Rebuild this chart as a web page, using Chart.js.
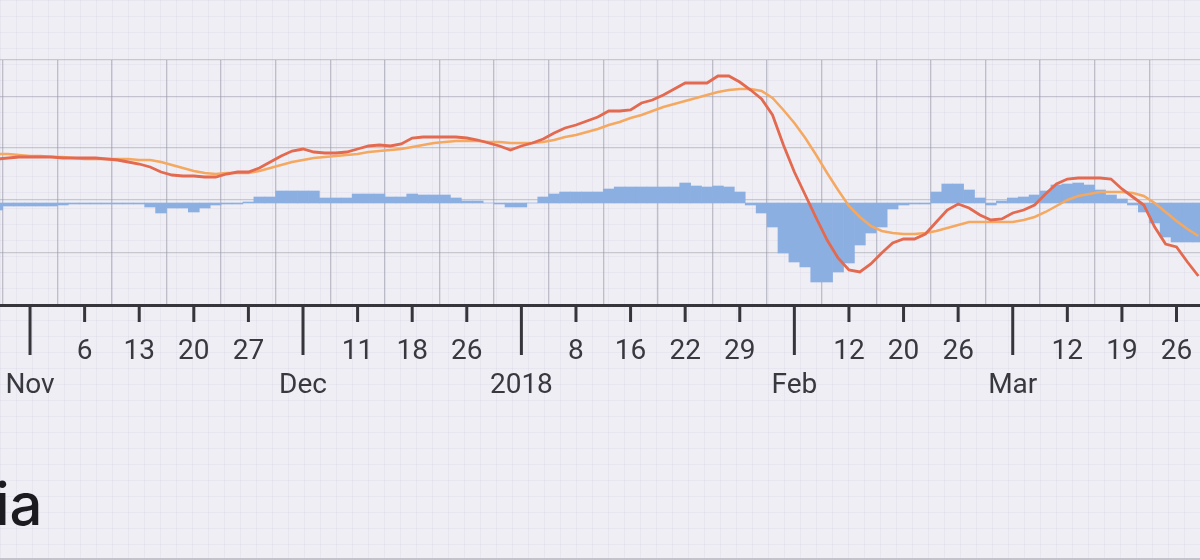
<!DOCTYPE html>
<html>
<head>
<meta charset="utf-8">
<script src="https://cdn.jsdelivr.net/npm/chart.js@4.4.1/dist/chart.umd.min.js"></script>
<style>
  html, body {
    margin: 0;
    padding: 0;
  }
  body {
    width: 1200px;
    height: 560px;
    overflow: hidden;
    position: relative;
    background-color: #efeef5;
    background-image:
      linear-gradient(to right, rgba(110, 110, 150, 0.06) 1px, transparent 1px),
      linear-gradient(to bottom, rgba(110, 110, 150, 0.06) 1px, transparent 1px);
    background-size: 16px 16px;
  }
  #wrap {
    position: absolute;
    left: 0;
    top: 0;
    width: 1200px;
    height: 560px;
  }
  #brand {
    position: absolute;
    left: -5px;
    top: 475px;
    font: 500 58px/58px Inter, sans-serif;
    color: #1b1b20;
  }
  #edge {
    position: absolute;
    left: 0;
    bottom: 0;
    width: 1200px;
    height: 2px;
    background: #c4c3cb;
  }
</style>
</head>
<body>
<div id="wrap"><canvas id="macdChart"></canvas></div>
<div id="brand">ia</div>
<div id="edge"></div>

<script>
// Daily slots, 5 per week; the first value sits 3 slots before the "Nov" tick
const firstDay = -3;

// Week ticks along the bottom axis
const tickLabels = ["Nov", "6", "13", "20", "27", "Dec", "11", "18", "26", "2018",
    "8", "16", "22", "29", "Feb", "12", "20", "26", "Mar", "12", "19", "26"];
const majorTicks = ["Nov", "Dec", "2018", "Feb", "Mar"];

// MACD line (red)
const macdLine = [
    44, 45, 46, 46, 46, 46, 45, 45, 45, 45,
    44, 43, 41, 39, 36, 31, 28, 27, 27, 26,
    26, 29, 31, 31, 35, 41, 47, 52, 54, 51,
    50, 50, 51, 54, 57, 58, 57, 59, 65, 66,
    66, 66, 66, 65, 63, 60, 57, 53, 57, 60,
    64, 70, 75, 78, 82, 86, 92, 92, 93, 100,
    103, 108, 114, 120, 120, 120, 127, 127, 121, 113,
    104, 88, 58, 31, 8, -15, -37, -55, -67, -69,
    -61, -50, -40, -36, -36, -31, -19, -7, -1, -5,
    -12, -17, -16, -10, -7, -2, 9, 19, 24, 25,
    25, 25, 24, 14, 6, -2, -24, -41, -44, -59, -73
];

// Signal line (orange)
const signalLine = [
    49, 49, 48, 47, 47, 46, 46, 45, 44, 44,
    44, 44, 44, 43, 43, 41, 38, 35, 32, 30,
    29, 30, 30, 30, 32, 35, 38, 41, 43, 45,
    46, 47, 48, 49, 51, 52, 53, 54, 56, 58,
    60, 61, 62, 62, 62, 61, 61, 60, 60, 60,
    61, 63, 66, 68, 71, 74, 78, 81, 85, 88,
    92, 96, 99, 102, 105, 108, 111, 113, 114, 114,
    112, 105, 93, 80, 65, 48, 30, 13, -3, -14,
    -23, -28, -30, -31, -31, -30, -28, -25, -22, -19,
    -19, -19, -19, -19, -17, -14, -9, -3, 3, 7,
    9, 11, 11, 11, 10, 7, 0, -9, -18, -26, -33
];

// Histogram (blue bars)
const histogram = [
    -7, -3, -3, -3, -3, -3, -2, -1, -1, -1,
    -1, -1, -1, -1, -4, -10, -5, -5, -9, -5,
    -2, -1, -1, 1, 6, 6, 12, 12, 12, 12,
    5, 5, 5, 9, 9, 9, 6, 6, 9, 8,
    8, 8, 5, 2, 2, 0, -1, -4, -4, 0,
    6, 9, 11, 11, 11, 11, 14, 16, 16, 16,
    16, 16, 16, 20, 17, 16, 17, 16, 11, -2,
    -10, -24, -50, -59, -64, -79, -79, -69, -60, -42,
    -30, -24, -6, -2, -1, -1, 11, 19, 19, 13,
    5, -2, 2, 5, 6, 8, 12, 18, 19, 20,
    18, 13, 8, 4, -2, -9, -20, -34, -39, -39, -39
];

// horizontal guide lines
const yGrid = [-50, 3, 55, 106, 143];

const toPoints = arr => arr.map((v, i) => ({ x: (firstDay + i) / 5, y: v }));

// long ticks for months, short ones for weeks
const tickMarks = {
    id: "tickMarks",
    afterDraw(chart) {
        const sc = chart.scales.x;
        const ctx = chart.ctx;
        ctx.save();
        ctx.strokeStyle = "#35353b";
        ctx.lineWidth = 3;
        sc.ticks.forEach((t, i) => {
            const px = sc.getPixelForValue(t.value);
            const len = majorTicks.includes(tickLabels[i]) ? 50 : 17;
            ctx.beginPath();
            ctx.moveTo(px, sc.top);
            ctx.lineTo(px, sc.top + len);
            ctx.stroke();
        });
        ctx.restore();
    }
};

new Chart(document.getElementById("macdChart"), {
    type: "bar",
    data: {
        datasets: [
            {
                type: "line",
                data: toPoints(macdLine),
                borderColor: "#e3694f",
                borderWidth: 2.8,
                pointRadius: 0,
                tension: 0,
                order: 1
            },
            {
                type: "line",
                data: toPoints(signalLine),
                borderColor: "#f5a860",
                borderWidth: 2.5,
                pointRadius: 0,
                tension: 0,
                order: 2
            },
            {
                type: "bar",
                data: toPoints(histogram),
                backgroundColor: "#8cafe2",
                borderWidth: 0,
                barPercentage: 1,
                categoryPercentage: 1,
                order: 3
            }
        ]
    },
    options: {
        responsive: true,
        maintainAspectRatio: false,
        animation: false,
        layout: { padding: { top: 60, left: 0, right: 0, bottom: 0 } },
        plugins: {
            legend: { display: false },
            tooltip: { enabled: false }
        },
        scales: {
            x: {
                type: "linear",
                min: -0.55,
                max: 21.43,
                offset: false,
                afterBuildTicks: scale => {
                    scale.ticks = tickLabels.map((_, i) => ({ value: i }));
                },
                afterFit: scale => {
                    scale.height = 255;
                    scale.paddingLeft = 0;
                    scale.paddingRight = 0;
                },
                grid: {
                    color: "rgba(150, 150, 165, 0.55)",
                    lineWidth: 1.3,
                    drawTicks: false
                },
                border: { display: true, color: "#35353b", width: 3 },
                ticks: {
                    autoSkip: false,
                    maxRotation: 0,
                    padding: 30,
                    color: "#38383f",
                    font: { family: "Roboto", size: 28, lineHeight: 1.22 },
                    callback: (value, index) => {
                        const lab = tickLabels[index];
                        return majorTicks.includes(lab) ? ["", lab] : [lab];
                    }
                }
            },
            y: {
                min: -102,
                max: 143,
                afterBuildTicks: scale => {
                    scale.ticks = yGrid.map(v => ({ value: v }));
                },
                afterFit: scale => {
                    scale.width = 0;
                },
                grid: {
                    color: "rgba(150, 150, 165, 0.45)",
                    lineWidth: 1.3,
                    drawTicks: false
                },
                border: { display: false },
                ticks: { display: false }
            }
        }
    },
    plugins: [tickMarks]
});
</script>
</body>
</html>
